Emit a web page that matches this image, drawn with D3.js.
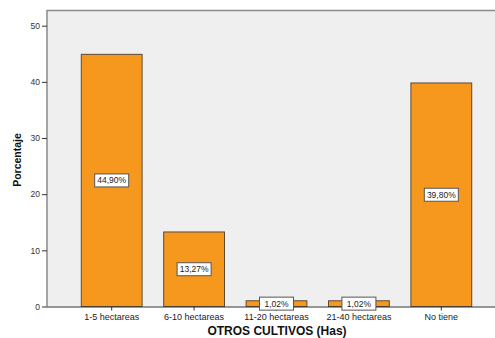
<!DOCTYPE html>
<html>
<head>
<meta charset="utf-8">
<script src="https://cdn.jsdelivr.net/npm/d3@7"></script>
<style>
  body { margin: 0; background: #fff; }
  svg { display: block; font-family: "Liberation Sans", Arial, sans-serif; }
</style>
</head>
<body>
<svg width="495" height="338"></svg>
<script>
var categories = ["1-5 hectareas", "6-10 hectareas", "11-20 hectareas", "21-40 hectareas", "No tiene"];
var values = [44.90, 13.27, 1.02, 1.02, 39.80];
var yTicks = [0, 10, 20, 30, 40, 50];

var svg = d3.select("svg");
var plotLeft = 47, plotRight = 506, plotTop = 10.5, plotBottom = 306.5;

var x = d3.scaleBand()
    .domain(categories)
    .range([plotLeft, plotRight])
    .paddingInner(0.25)
    .paddingOuter(0.41);

var y = d3.scaleLinear()
    .domain([0, 50])
    .range([plotBottom, 25.7]);

// plot background
svg.append("rect")
    .attr("x", plotLeft).attr("y", plotTop)
    .attr("width", plotRight - plotLeft).attr("height", plotBottom - plotTop)
    .attr("fill", "#efefef");

svg.append("path")
    .attr("d", "M" + plotLeft + "," + plotBottom + "V" + plotTop + "H" + plotRight)
    .attr("fill", "none")
    .attr("stroke", "#8a8a8a")
    .attr("stroke-width", 1.5);

// bars
svg.append("g").selectAll("rect")
    .data(values)
    .enter().append("rect")
    .attr("x", function (d, i) { return x(categories[i]) + 0.5; })
    .attr("y", function (d) { return y(d); })
    .attr("width", x.bandwidth() - 1)
    .attr("height", function (d) { return plotBottom - y(d); })
    .attr("fill", "#f7981e")
    .attr("stroke", "#5c4a36")
    .attr("stroke-width", 1);

// axes
var yAxis = svg.append("g")
    .attr("transform", "translate(" + plotLeft + ",0)")
    .call(d3.axisLeft(y).tickValues(yTicks).tickSize(5).tickPadding(2));
yAxis.select(".domain").remove();
yAxis.selectAll("line").attr("stroke", "#333");
yAxis.selectAll("text").attr("fill", "#333").style("font-size", "8.5px")
    .style("font-family", "Liberation Sans, Arial, sans-serif");

var xAxis = svg.append("g")
    .attr("transform", "translate(0," + plotBottom + ")")
    .call(d3.axisBottom(x).tickSize(4).tickPadding(3));
xAxis.select(".domain").attr("stroke", "#333").attr("d", "M" + plotLeft + ",0.5H" + 495);
xAxis.selectAll("line").attr("stroke", "#333");
xAxis.selectAll("text").attr("fill", "#222").style("font-size", "9px")
    .style("font-family", "Liberation Sans, Arial, sans-serif");

// value labels
var lab = svg.append("g").selectAll("g")
    .data(values)
    .enter().append("g")
    .attr("transform", function (d, i) {
        return "translate(" + (x(categories[i]) + x.bandwidth() / 2) + "," + ((y(d) + plotBottom) / 2) + ")";
    });
lab.append("rect")
    .attr("x", -17).attr("y", -6.5)
    .attr("width", 34).attr("height", 13)
    .attr("fill", "#fff")
    .attr("stroke", "#555")
    .attr("stroke-width", 1);
lab.append("text")
    .attr("text-anchor", "middle")
    .attr("dy", "0.35em")
    .style("font-size", "8.5px")
    .attr("fill", "#222")
    .text(function (d) { return d.toFixed(2).replace(".", ",") + "%"; });

// titles
svg.append("text")
    .attr("x", 277).attr("y", 335)
    .attr("text-anchor", "middle")
    .style("font-size", "12px")
    .style("font-weight", "bold")
    .attr("fill", "#111")
    .text("OTROS CULTIVOS (Has)");

svg.append("text")
    .attr("transform", "translate(21,160) rotate(-90)")
    .attr("text-anchor", "middle")
    .style("font-size", "10.5px")
    .style("font-weight", "bold")
    .attr("fill", "#111")
    .text("Porcentaje");
</script>
</body>
</html>
